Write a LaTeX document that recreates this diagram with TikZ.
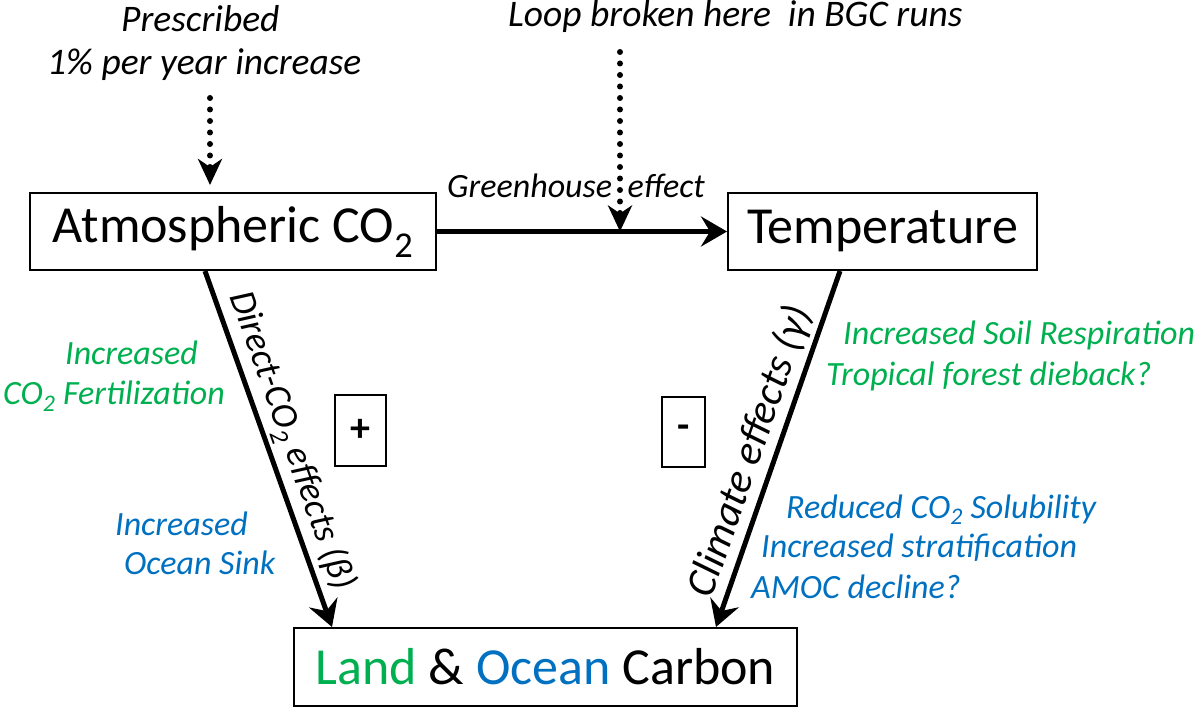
\documentclass[tikz,border=0pt]{standalone}
\usepackage{fontspec}
\setmainfont{Carlito}
\usetikzlibrary{arrows.meta,positioning,calc}
\definecolor{landgreen}{RGB}{0,176,80}
\definecolor{oceanblue}{RGB}{0,112,192}

\begin{document}
\begin{tikzpicture}[x=1pt, y=-1pt,
  box/.style={draw, line width=2pt, minimum height=77pt, inner sep=0pt,
              font=\fontsize{52}{60}\selectfont},
  sign/.style={draw, line width=2pt, inner sep=0pt, font=\fontsize{40}{44}\selectfont\bfseries},
  lbl/.style={inner sep=0pt, anchor=base west, font=\fontsize{34}{40}\selectfont\itshape},
  toplbl/.style={lbl, font=\fontsize{37.5}{44}\selectfont\itshape},
  eff/.style={inner sep=4pt, font=\fontsize{37}{44}\selectfont\itshape},
  arr/.style={-{Stealth[length=26pt, width=30pt, inset=9pt]}, line width=5pt},
  dotarr/.style={-{Stealth[length=26pt, width=24pt, inset=8pt]}, line width=6pt,
                 line cap=round, dash pattern=on 0pt off 11.5pt}
]
  \useasboundingbox (0,0) rectangle (1200,711);
  % boxes
  \node[box, minimum width=406pt] (atm) at (233,231.5) {Atmospheric CO\textsubscript{2}};
  \node[box, minimum width=309pt] (temp) at (882.5,231.5) {Temperature};
  \node[box, minimum width=503pt, minimum height=78pt] (land) at (545.5,667)
       {\textcolor{landgreen}{Land} \& \textcolor{oceanblue}{Ocean} Carbon};
  \node[sign, minimum width=51pt, minimum height=71pt] (plus) at (360.5,430.5) {+};
  \node[sign, minimum width=43pt, minimum height=70pt] (minus) at (683.5,432) {-};
  % labels
  \node[toplbl] (pres1) at (121,32) {Prescribed};
  \node[toplbl] (pres2) at (47,75) {1\% per year increase};
  \node[toplbl] (loop) at (508,27) {Loop broken here\ \ in BGC runs};
  \node[lbl] (ghg) at (447,198) {Greenhouse\ \ effect};
  \node[lbl, text=landgreen] (fert1) at (65,365) {Increased};
  \node[lbl, text=landgreen] (fert2) at (3,405) {CO\textsubscript{2} Fertilization};
  \node[lbl, text=oceanblue] (sink1) at (115,535) {Increased};
  \node[lbl, text=oceanblue] (sink2) at (124,574) {Ocean Sink};
  \node[lbl, text=landgreen] (resp) at (843,345) {Increased Soil Respiration};
  \node[lbl, text=landgreen] (trop) at (826,385) {Tropical forest dieback?};
  \node[lbl, text=oceanblue] (solu) at (786,518) {Reduced CO\textsubscript{2} Solubility};
  \node[lbl, text=oceanblue] (strat) at (761,557) {Increased stratification};
  \node[lbl, text=oceanblue] (amoc) at (751,598) {AMOC decline?};
  % arrows
  \coordinate (presc) at (210,98);
  \coordinate (brk) at (620,52);
  \draw[arr] (atm) -- (temp);
  \draw[arr] ([xshift=-28pt]atm.south) -- node[eff, above, sloped] {Direct-CO\textsubscript{2} effects (β)} ([xshift=-213.5pt]land.north);
  \draw[arr] ([xshift=-42.5pt]temp.south) -- node[eff, above, sloped, pos=0.53, font=\fontsize{42}{48}\selectfont\itshape] {Climate effects (γ)} ([xshift=170.5pt]land.north);
  \draw[dotarr, shorten >=7pt] (presc) -- (presc |- atm.north);
  \draw[dotarr] (brk) -- (brk |- atm.east);
\end{tikzpicture}
\end{document}
